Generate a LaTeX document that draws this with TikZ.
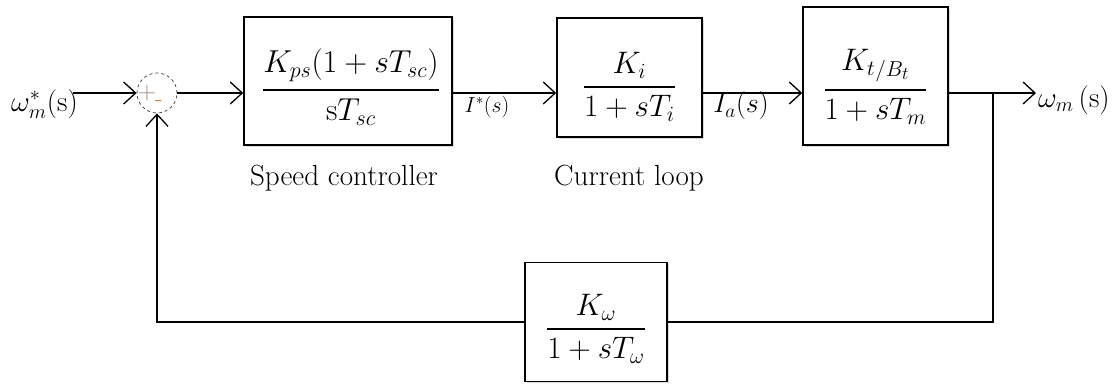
\documentclass[tikz,border=0pt]{standalone}
\usepackage{amsmath}
\usepackage{graphicx}
\usepackage{fontspec}
\usetikzlibrary{arrows.meta,shadows}
\definecolor{signcol}{RGB}{200,120,50}
\definecolor{pluscol}{RGB}{150,140,130}
\newcommand{\mymath}[2]{\scalebox{#1}{$#2$}}
\newcommand{\tf}[2]{\genfrac{}{}{1.6pt}{0}{#1}{#2}}
\begin{document}
\begin{tikzpicture}[x=1pt,y=-1pt,
  blk/.style={draw, line width=1.6pt, fill=white, inner sep=0pt,
    drop shadow={shadow xshift=2pt, shadow yshift=-2pt, opacity=0.3}},
  frac/.style={inner sep=0pt, font=\fontsize{20.74}{25}\selectfont},
  sig/.style={line width=1.3pt},
  arr/.style={sig, -{Straight Barb[length=12pt,width=22pt,line width=1.3pt]}},
  sumc/.style={circle, draw=black!70, dashed, line width=0.8pt, minimum size=40pt, inner sep=0pt},
  sgn/.style={inner sep=0pt, font=\fontsize{24.88}{28}\selectfont},
  lbl/.style={inner sep=0pt, font=\fontsize{24.88}{30}\selectfont},
  sglbl/.style={inner sep=0pt, font=\fontsize{20.74}{25}\selectfont}
]
\useasboundingbox (0,0) rectangle (1117,387);

% summing junction
\node[sumc] (sum) at (157,93) {};
\node[sgn, text=pluscol] (plus) at (147,93) {+};
\node[sgn, text=signcol] (minus) at (159,104) {-};

% blocks
\node[blk, minimum width=208pt, minimum height=128pt] (b1) at (348,81) {};
\node[frac] (f1) at (351,87) {\mymath{1.53}{\tf{K_{ps}(1+sT_{sc})}{\mathrm{s}T_{sc}}}};

\node[blk, minimum width=145pt, minimum height=119pt] (b2) at (629.5,77.5) {};
\node[frac] (f2) at (629.5,87) {\mymath{1.5}{\tf{K_i}{1+sT_i}}};

\node[blk, minimum width=145pt, minimum height=138pt] (b3) at (875.5,76) {};
\node[frac] (f3) at (875.5,87) {\mymath{1.5}{\tf{K_t{}_{/B_t}}{1+sT_m}}};

\node[blk, minimum width=142pt, minimum height=119pt] (fb) at (596,322) {};
\node[frac] (f4) at (596,329) {\mymath{1.5}{\tf{K_\omega}{1+sT_\omega}}};

% coordinates
\coordinate (in) at (73,93);
\coordinate (out) at (1036,93);
\coordinate (br) at (993,93);

% connectors
\draw[arr] (in) -- (sum.west);
\draw[arr] (sum.east) -- (sum.east -| b1.west);
\draw[arr] (b1.east |- sum) -- (b2.west |- sum);
\draw[arr] (b2.east |- sum) -- (b3.west |- sum);
\draw[arr] (b3.east |- sum) -- (out);
\draw[sig] (br) |- (fb.east);
\draw[arr] (fb.west) -| (sum.south);

% signal labels
\node[sglbl, anchor=east] (lin) at (78,104) {\scalebox{1.4}{$\omega^{*}_{m}$(s)}};
\node[sglbl] (li) at (487,107) {\scalebox{1.05}{$I^{*}(s)$}};
\node[sglbl] (lia) at (741,106) {\scalebox{1.35}{$I_a(s)$}};
\node[sglbl, anchor=west] (lout) at (1038,100) {\scalebox{1.4}{$\omega_{m}$\,(s)}};

% block captions
\node[lbl] (cap1) at (344,178) {\scalebox{1.17}{Speed controller}};
\node[lbl] (cap2) at (629,178) {\scalebox{1.17}{Current loop}};
\end{tikzpicture}
\end{document}
